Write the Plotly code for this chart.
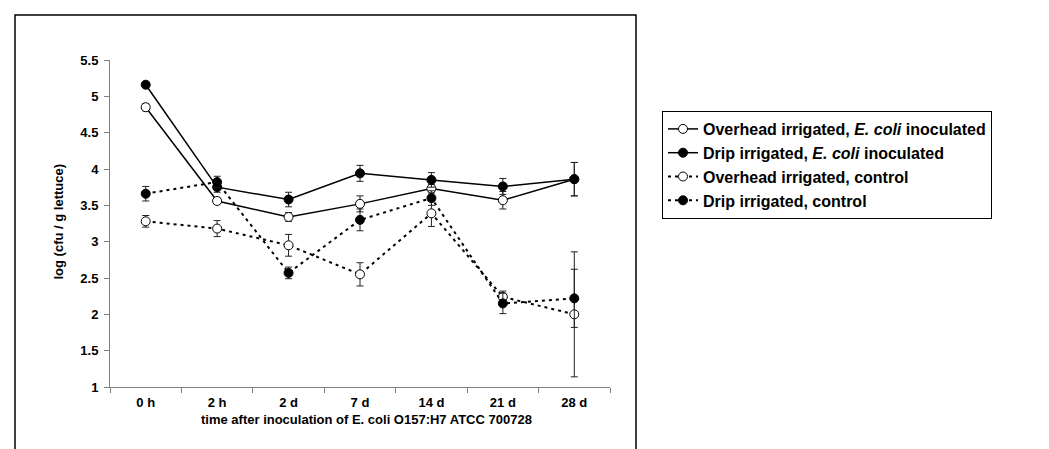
import plotly.graph_objects as go

categories = ["0 h", "2 h", "2 d", "7 d", "14 d", "21 d", "28 d"]

overhead_ecoli = [4.85, 3.56, 3.34, 3.52, 3.73, 3.57, 3.86]
overhead_ecoli_err = [0.05, 0.04, 0.06, 0.11, 0.06, 0.12, 0.23]

drip_ecoli = [5.16, 3.75, 3.58, 3.94, 3.85, 3.76, 3.86]
drip_ecoli_err = [0.03, 0.07, 0.10, 0.11, 0.10, 0.11, 0.23]

overhead_control = [3.28, 3.18, 2.95, 2.55, 3.39, 2.24, 2.00]
overhead_control_err = [0.08, 0.11, 0.15, 0.16, 0.18, 0.08, 0.86]

drip_control = [3.66, 3.82, 2.57, 3.30, 3.60, 2.15, 2.22]
drip_control_err = [0.10, 0.08, 0.08, 0.15, 0.10, 0.14, 0.40]

y_ticks = [1, 1.5, 2, 2.5, 3, 3.5, 4, 4.5, 5, 5.5]

FONT = "Liberation Sans, Arial, sans-serif"

series = [
    ("Overhead irrigated, <i>E. coli</i> inoculated", overhead_ecoli, overhead_ecoli_err, "solid", "white", 1.5),
    ("Drip irrigated, <i>E. coli</i> inoculated", drip_ecoli, drip_ecoli_err, "solid", "black", 1.5),
    ("Overhead irrigated, control", overhead_control, overhead_control_err, "3px,4px", "white", 2),
    ("Drip irrigated, control", drip_control, drip_control_err, "3px,4px", "black", 2),
]

fig = go.Figure()
for name, vals, errs, dash, fill, lw in series:
    fig.add_trace(go.Scatter(
        x=categories, y=vals, name=name, mode="lines+markers",
        line=dict(color="black", width=lw, dash=dash),
        marker=dict(symbol="circle", size=9, color=fill, line=dict(color="black", width=1)),
        error_y=dict(type="data", array=errs, visible=True, color="#222222", thickness=1, width=3.5),
    ))

W, H = 1049, 449
L, R, T, B = 102, 447, 52, 70
pw, ph = W - L - R, H - T - B

def px(x):
    return (x - L) / pw

def py(y):
    return (H - B - y) / ph

fig.add_shape(type="rect", xref="paper", yref="paper",
              x0=px(7), x1=px(628), y0=py(470), y1=py(7),
              line=dict(color="black", width=1.5), fillcolor="rgba(0,0,0,0)")

fig.add_annotation(text="log (cfu / g lettuce)", xref="paper", yref="paper",
                   x=px(40), y=py(214), textangle=-90, showarrow=False,
                   font=dict(family=FONT, size=13, color="black", weight="bold"))
fig.add_annotation(text="time after inoculation of E. coli O157:H7 ATCC 700728",
                   xref="paper", yref="paper", x=px(358), y=py(421), showarrow=False,
                   font=dict(family=FONT, size=13, color="black", weight="bold"))

fig.update_layout(
    width=W, height=H,
    margin=dict(l=L, r=R, t=T, b=B, autoexpand=False),
    paper_bgcolor="white", plot_bgcolor="white",
    font=dict(family=FONT, size=13, color="black", weight="bold"),
    showlegend=True,
    legend=dict(x=px(654), y=py(103), xanchor="left", yanchor="top",
                bordercolor="black", borderwidth=1, bgcolor="white",
                font=dict(family=FONT, size=16, color="black", weight="bold"),
                tracegroupgap=0),
    xaxis=dict(type="category", range=[-0.5, 6.5], showline=True, linecolor="#808080",
               linewidth=1, ticks="outside", tickson="boundaries", ticklen=5,
               tickcolor="#808080", showgrid=False, zeroline=False,
               ticklabelstandoff=3,
               tickfont=dict(family=FONT, size=13, color="black", weight="bold")),
    yaxis=dict(range=[1, 5.5], tickvals=y_ticks, ticktext=[f"{v:g}" for v in y_ticks],
               showline=True, linecolor="#808080", linewidth=1, ticks="outside",
               ticklen=5, tickcolor="#808080", showgrid=False, zeroline=False,
               ticklabelstandoff=3,
               tickfont=dict(family=FONT, size=13, color="black", weight="bold")),
)

fig.write_html("out.html")
